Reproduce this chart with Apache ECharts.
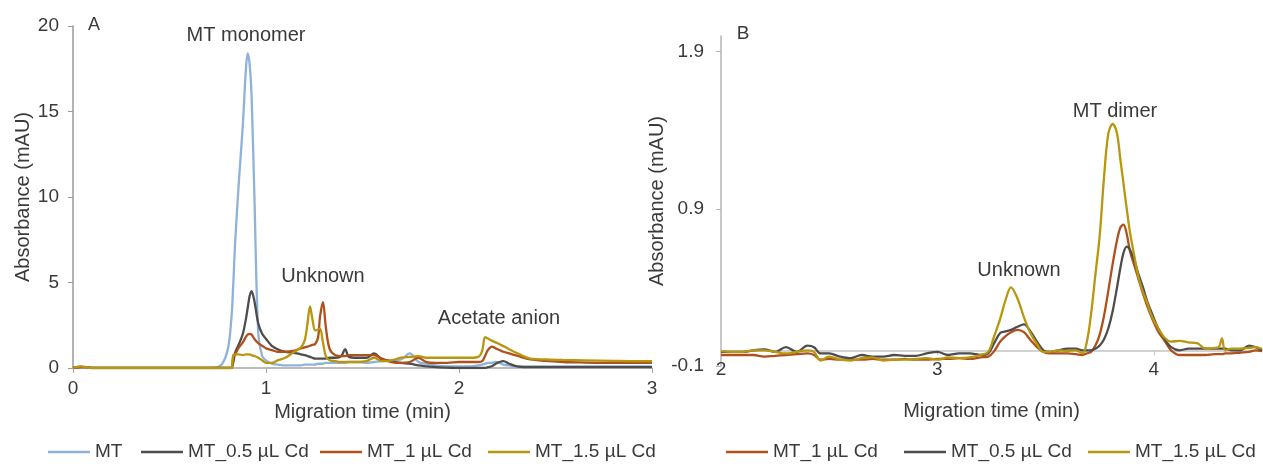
<!DOCTYPE html>
<html>
<head>
<meta charset="utf-8">
<script src="https://cdn.jsdelivr.net/npm/echarts@6.0.0/dist/echarts.min.js"></script>
<style>
html, body { margin: 0; padding: 0; background: #fff; }
#main { width: 1263px; height: 464px; }
</style>
</head>
<body>
<div id="main"></div>
<script>
// panel A: migration time (min) and absorbance (mAU) of each run
var timeA = [0, 0.04, 0.07, 0.1, 0.2, 0.4, 0.6, 0.7, 0.76, 0.8,
  0.82, 0.83, 0.84, 0.86, 0.88, 0.895, 0.905, 0.915, 0.925, 0.94,
  0.96, 0.98, 1.0, 1.03, 1.06, 1.1, 1.14, 1.18, 1.2, 1.215,
  1.228, 1.24, 1.255, 1.27, 1.28, 1.295, 1.31, 1.33, 1.36, 1.39,
  1.41, 1.43, 1.47, 1.52, 1.56, 1.6, 1.65, 1.7, 1.745, 1.79,
  1.83, 1.88, 1.94, 2.0, 2.06, 2.1, 2.12, 2.135, 2.15, 2.17,
  2.19, 2.21, 2.23, 2.26, 2.3, 2.37, 2.45, 2.54, 2.65, 2.8,
  2.9, 3.0];
var mtA = [0, 0.1, 0.05, 0, 0, 0, 0, 0, 0.1, 1.0,
  2.8, 4.8, 7.3, 11.0, 14.2, 17.3, 18.4, 17.8, 16.0, 10.0,
  2.0, 0.7, 0.45, 0.25, 0.2, 0.15, 0.15, 0.15, 0.2, 0.2,
  0.2, 0.2, 0.2, 0.25, 0.25, 0.25, 0.3, 0.3, 0.3, 0.3,
  0.3, 0.35, 0.35, 0.3, 0.35, 0.4, 0.45, 0.5, 0.85, 0.35,
  0.25, 0.15, 0.1, 0.1, 0.1, 0.15, 0.2, 0.25, 0.3, 0.3,
  0.35, 0.3, 0.2, 0.15, 0.1, 0.1, 0.1, 0.1, 0.1, 0.1,
  0.1, 0.1];
var mt05A = [0, 0.05, 0.05, 0, 0, 0, 0, 0, 0, 0,
  0, 0.3, 0.9, 1.4, 2.0, 2.8, 3.5, 4.2, 4.5, 3.9,
  2.6, 2.0, 1.7, 1.3, 1.1, 0.95, 0.9, 0.8, 0.75, 0.7,
  0.65, 0.6, 0.55, 0.55, 0.55, 0.55, 0.55, 0.6, 0.6, 0.7,
  1.1, 0.65, 0.6, 0.6, 0.85, 0.5, 0.4, 0.3, 0.25, 0.15,
  0.1, 0.05, 0.02, 0, 0, 0, 0, 0, 0.05, 0.1,
  0.25, 0.35, 0.4, 0.25, 0.1, 0.05, 0.05, 0.05, 0.05, 0.05,
  0.05, 0.05];
var mt1A = [0, 0.05, 0.05, 0, 0, 0, 0, 0, 0, 0,
  0, 0.6, 0.8, 1.2, 1.5, 1.8, 1.95, 2.0, 1.95, 1.7,
  1.45, 1.3, 1.15, 1.05, 0.95, 0.95, 1.0, 1.15, 1.2, 1.25,
  1.3, 1.35, 1.4, 1.8, 3.0, 3.85, 2.4, 1.1, 0.75, 0.7,
  0.7, 0.75, 0.75, 0.75, 0.75, 0.55, 0.35, 0.3, 0.35, 0.6,
  0.35, 0.3, 0.3, 0.35, 0.35, 0.35, 0.4, 0.7, 1.05, 1.25,
  1.15, 1.05, 0.95, 0.85, 0.72, 0.5, 0.42, 0.35, 0.32, 0.3,
  0.3, 0.3];
var mt15A = [0, 0.1, 0.05, 0, 0, 0, 0, 0, 0, 0,
  0, 0.75, 0.8, 0.8, 0.75, 0.8, 0.8, 0.8, 0.75, 0.7,
  0.6, 0.45, 0.3, 0.3, 0.45, 0.6, 0.9, 1.2, 1.6, 2.6,
  3.6, 2.9, 2.2, 2.25, 2.3, 1.5, 0.7, 0.45, 0.4, 0.35,
  0.35, 0.35, 0.35, 0.4, 0.6, 0.4, 0.45, 0.6, 0.65, 0.7,
  0.6, 0.6, 0.6, 0.6, 0.6, 0.65, 1.0, 1.8, 1.72, 1.6,
  1.5, 1.39, 1.28, 1.1, 0.88, 0.55, 0.5, 0.47, 0.45, 0.42,
  0.4, 0.4];

// panel B
var timeB = [2.0, 2.05, 2.1, 2.15, 2.2, 2.25, 2.3, 2.35, 2.4, 2.43,
  2.46, 2.5, 2.55, 2.6, 2.65, 2.7, 2.75, 2.8, 2.85, 2.9,
  2.95, 3.0, 3.05, 3.1, 3.15, 3.2, 3.235, 3.26, 3.29, 3.315,
  3.34, 3.37, 3.4, 3.43, 3.46, 3.49, 3.52, 3.56, 3.6, 3.64,
  3.67, 3.69, 3.71, 3.73, 3.75, 3.77, 3.79, 3.81, 3.83, 3.845,
  3.86, 3.875, 3.89, 3.91, 3.93, 3.95, 3.97, 3.99, 4.02, 4.05,
  4.08, 4.12, 4.16, 4.2, 4.24, 4.28, 4.3, 4.315, 4.33, 4.36,
  4.4, 4.44, 4.47, 4.5];
var mt1B = [-0.03, -0.03, -0.03, -0.03, -0.04, -0.035, -0.03, -0.025, -0.02, -0.03,
  -0.06, -0.055, -0.06, -0.06, -0.06, -0.055, -0.06, -0.06, -0.055, -0.06,
  -0.06, -0.055, -0.055, -0.05, -0.055, -0.045, -0.04, -0.01, 0.055, 0.09,
  0.115, 0.13, 0.115, 0.065, 0.02, -0.01, -0.02, -0.02, -0.02, -0.025,
  -0.03, -0.02, -0.01, 0.03, 0.1, 0.22, 0.38, 0.55, 0.7, 0.78,
  0.8, 0.74, 0.63, 0.54, 0.45, 0.36, 0.28, 0.21, 0.12, 0.06,
  0.0, -0.03, -0.03, -0.03, -0.03, -0.025, -0.025, -0.025, -0.02, -0.02,
  -0.015, -0.01, 0.0, -0.005];
var mt05B = [-0.01, -0.01, -0.01, 0.0, 0.005, -0.01, 0.02, -0.01, 0.03, 0.02,
  -0.02, -0.02, -0.04, -0.05, -0.03, -0.04, -0.04, -0.03, -0.035, -0.035,
  -0.02, -0.01, -0.03, -0.02, -0.02, -0.03, -0.02, 0.04, 0.11, 0.12,
  0.13, 0.15, 0.165, 0.12, 0.055, 0.0, -0.01, 0.0, 0.01, 0.01,
  0.0, 0.0, 0.0, 0.01, 0.03, 0.07, 0.14, 0.25, 0.4, 0.52,
  0.62, 0.66, 0.64, 0.57, 0.48, 0.4, 0.31, 0.24, 0.14, 0.07,
  0.02, 0.0, 0.01, 0.01, 0.01, 0.01, 0.01, 0.01, 0.01, 0.0,
  0.0, 0.03, 0.02, 0.0];
var mt15B = [-0.005, -0.01, -0.01, 0.0, 0.0, -0.01, -0.02, -0.01, 0.0, -0.01,
  -0.065, -0.04, -0.06, -0.065, -0.05, -0.045, -0.065, -0.06, -0.06, -0.055,
  -0.05, -0.06, -0.045, -0.05, -0.045, -0.03, -0.01, 0.08, 0.2, 0.32,
  0.4, 0.33, 0.21, 0.11, 0.04, -0.01, -0.01, 0.0, -0.005, 0.0,
  -0.02, 0.05, 0.23, 0.48, 0.73, 1.1, 1.38, 1.44, 1.38, 1.22,
  1.06, 0.9, 0.75, 0.6, 0.46, 0.37, 0.3, 0.22, 0.14, 0.08,
  0.055, 0.06, 0.05, 0.045, 0.01, 0.015, 0.02, 0.075, 0.0, 0.01,
  0.01, 0.015, 0.02, 0.01];

var FONT = 'Liberation Sans';
var TEXT = '#3a3a3a';
var colors = {
  'MT': '#8fb2da',
  'MT_0.5 µL Cd': '#4d4d4d',
  'MT_1 µL Cd': '#b0501c',
  'MT_1.5 µL Cd': '#b8960e'
};

function line(name, xs, ys, idx) {
  return {
    name: name,
    type: 'line',
    xAxisIndex: idx,
    yAxisIndex: idx,
    data: xs.map(function (t, i) { return [t, ys[i]]; }),
    symbol: 'none',
    smooth: 0.35,
    lineStyle: { color: colors[name], width: 2.3 },
    itemStyle: { color: colors[name] }
  };
}

function legendAt(name, left) {
  return {
    data: [name],
    left: left,
    top: 440,
    padding: 0,
    icon: 'rect',
    itemWidth: 42,
    itemHeight: 2.5,
    selectedMode: false,
    textStyle: { fontFamily: FONT, fontSize: 19, color: TEXT, lineHeight: 24 }
  };
}

function label(text, x, y, size) {
  return {
    type: 'text', x: x, y: y,
    style: {
      text: text, fill: TEXT, font: (size || 20) + 'px ' + FONT,
      align: 'center', verticalAlign: 'middle'
    }
  };
}

var axisText = { fontFamily: FONT, fontSize: 19, color: TEXT };

var chart = echarts.init(document.getElementById('main'));
var option = {
  animation: false,
  backgroundColor: '#fff',
  textStyle: { fontFamily: FONT },
  grid: [
    { left: 73, top: 26, width: 579, height: 342 },
    { left: 721, top: 36, width: 541, height: 330 }
  ],
  xAxis: [
    {
      gridIndex: 0, type: 'value', min: 0, max: 3, interval: 1,
      name: 'Migration time (min)', nameLocation: 'middle', nameGap: 33,
      nameTextStyle: { fontFamily: FONT, fontSize: 20, color: TEXT },
      axisLine: { lineStyle: { color: '#a6a6a6', width: 1.5 } },
      axisTick: { length: 5, lineStyle: { color: '#a6a6a6' } },
      axisLabel: Object.assign({ margin: 11 }, axisText),
      splitLine: { show: false }
    },
    {
      gridIndex: 1, type: 'value', min: 2, max: 4.5, interval: 1,
      name: 'Migration time (min)', nameLocation: 'middle', nameGap: 35,
      nameTextStyle: { fontFamily: FONT, fontSize: 20, color: TEXT },
      axisLine: { onZero: true, lineStyle: { color: '#c4c4c4', width: 1.5 } },
      axisTick: { length: 5, customValues: [2, 3, 4], lineStyle: { color: '#c4c4c4' } },
      axisLabel: Object.assign({ margin: -6, customValues: [2, 3, 4] }, axisText),
      splitLine: { show: false }
    }
  ],
  yAxis: [
    {
      gridIndex: 0, type: 'value', min: 0, max: 20, interval: 5,
      name: 'Absorbance (mAU)', nameLocation: 'middle', nameGap: 40, nameRotate: 90,
      nameTextStyle: { fontFamily: FONT, fontSize: 20, color: TEXT },
      axisLine: { show: true, lineStyle: { color: '#9a9a9a', width: 1.5 } },
      axisTick: { show: true, length: 5, lineStyle: { color: '#9a9a9a' } },
      axisLabel: Object.assign({ margin: 14 }, axisText),
      splitLine: { show: false }
    },
    {
      gridIndex: 1, type: 'value', min: -0.1, max: 2.0, interval: 1,
      name: 'Absorbance (mAU)', nameLocation: 'middle', nameGap: 47, nameRotate: 90,
      nameTextStyle: { fontFamily: FONT, fontSize: 20, color: TEXT },
      axisLine: { show: true, lineStyle: { color: '#b4b4b4', width: 1.5 } },
      axisTick: { show: true, length: 5, customValues: [-0.1, 0.9, 1.9], lineStyle: { color: '#b4b4b4' } },
      axisLabel: Object.assign({
        margin: 17,
        customValues: [-0.1, 0.9, 1.9],
        formatter: function (v) { return v.toFixed(1); }
      }, axisText),
      splitLine: { show: false }
    }
  ],
  legend: [
    legendAt('MT', 48),
    legendAt('MT_0.5 µL Cd', 141),
    legendAt('MT_1 µL Cd', 320),
    legendAt('MT_1.5 µL Cd', 488),
    legendAt('MT_1 µL Cd', 726),
    legendAt('MT_0.5 µL Cd', 904),
    legendAt('MT_1.5 µL Cd', 1088)
  ],
  graphic: [
    label('A', 94, 25, 18),
    label('B', 743, 34, 19),
    label('MT monomer', 246, 35),
    label('Unknown', 323, 276),
    label('Acetate anion', 499, 318),
    label('Unknown', 1019, 270),
    label('MT dimer', 1115, 111)
  ],
  series: [
    line('MT', timeA, mtA, 0),
    line('MT_0.5 µL Cd', timeA, mt05A, 0),
    line('MT_1 µL Cd', timeA, mt1A, 0),
    line('MT_1.5 µL Cd', timeA, mt15A, 0),
    line('MT_1 µL Cd', timeB, mt1B, 1),
    line('MT_0.5 µL Cd', timeB, mt05B, 1),
    line('MT_1.5 µL Cd', timeB, mt15B, 1)
  ]
};
chart.setOption(option);
</script>
</body>
</html>
